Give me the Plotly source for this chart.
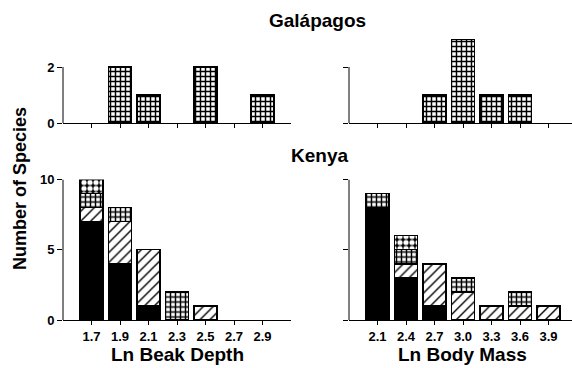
import plotly.graph_objects as go

# Histogram bins (natural log of beak depth / body mass)
beak_bins = [1.7, 1.9, 2.1, 2.3, 2.5, 2.7, 2.9]
mass_bins = [2.1, 2.4, 2.7, 3.0, 3.3, 3.6, 3.9]

# Galápagos species counts
gal_beak = [0, 2, 1, 0, 2, 0, 1]
gal_mass = [0, 0, 1, 3, 1, 1, 0]

# Kenya species counts, split into four stacked groups
ken_beak_solid = [7, 4, 1, 0, 0, 0, 0]
ken_beak_hatch = [1, 3, 4, 0, 1, 0, 0]
ken_beak_grid = [1, 1, 0, 2, 0, 0, 0]
ken_beak_dots = [1, 0, 0, 0, 0, 0, 0]

ken_mass_solid = [8, 3, 1, 0, 0, 0, 0]
ken_mass_hatch = [0, 1, 3, 2, 1, 1, 1]
ken_mass_grid = [1, 1, 0, 1, 0, 1, 0]
ken_mass_dots = [0, 1, 0, 0, 0, 0, 0]

beak_ticks = ["1.7", "1.9", "2.1", "2.3", "2.5", "2.7", "2.9"]
mass_ticks = ["2.1", "2.4", "2.7", "3.0", "3.3", "3.6", "3.9"]

W, H = 572, 368
FONT = "Liberation Sans"

SOLID = dict(color="black")
HATCH = dict(color="white", pattern=dict(shape="/", fgcolor="black", bgcolor="white",
                                          size=7, solidity=0.2, fillmode="replace"))
GRID = dict(color="white", pattern=dict(shape="+", fgcolor="black", bgcolor="white",
                                         size=5, solidity=0.5, fillmode="replace"))
DOTS = dict(color="black", pattern=dict(shape=".", fgcolor="white", bgcolor="black",
                                         size=6, solidity=0.6, fillmode="replace"))


def nz(vals):
    return [v if v else None for v in vals]


def add_bar(fig, x, y, style, xa, ya, width):
    marker = dict(style)
    marker["line"] = dict(color="black", width=1.4)
    fig.add_trace(go.Bar(x=x, y=nz(y), width=[width] * len(x), marker=marker,
                         xaxis=xa, yaxis=ya, showlegend=False))


fig = go.Figure()

# Galápagos panels (top)
add_bar(fig, beak_bins, gal_beak, GRID, "x", "y", 0.16)
add_bar(fig, mass_bins, gal_mass, GRID, "x2", "y2", 0.24)

# Kenya panels (bottom), stacked
for vals, st in [(ken_beak_solid, SOLID), (ken_beak_hatch, HATCH),
                 (ken_beak_grid, GRID), (ken_beak_dots, DOTS)]:
    add_bar(fig, beak_bins, vals, st, "x3", "y3", 0.16)
for vals, st in [(ken_mass_solid, SOLID), (ken_mass_hatch, HATCH),
                 (ken_mass_grid, GRID), (ken_mass_dots, DOTS)]:
    add_bar(fig, mass_bins, vals, st, "x4", "y4", 0.24)

left_dom = [63 / W, 291 / W]
right_dom = [349 / W, 1.0]
top_dom = [(H - 123) / H, (H - 39) / H]
bot_dom = [(H - 320) / H, (H - 179.5) / H]

tickfont = dict(family=FONT, size=13, color="black", weight="bold")
xcommon = dict(showline=True, linecolor="black", linewidth=1, ticks="outside",
               ticklen=4, tickcolor="black", tickwidth=1, showgrid=False,
               zeroline=False, tickfont=tickfont, fixedrange=True, automargin=False)
ycommon = dict(showline=False, ticks="outside", ticklen=5, tickcolor="black",
               tickwidth=1, showgrid=False, zeroline=False, tickfont=tickfont,
               fixedrange=True, automargin=False)

fig.update_layout(
    width=W, height=H, margin=dict(l=0, r=0, t=0, b=0, autoexpand=False),
    paper_bgcolor="white", plot_bgcolor="white", barmode="stack",
    font=dict(family=FONT, color="black"),
    xaxis=dict(xcommon, domain=left_dom, range=[1.5, 3.1], anchor="y",
               tickvals=beak_bins, showticklabels=False),
    yaxis=dict(ycommon, domain=top_dom, range=[0, 3], anchor="x",
               tickvals=[0, 2], ticktext=["0", "2"]),
    xaxis2=dict(xcommon, domain=right_dom, range=[1.8, 1.8 + 2.4 * 223 / 228],
                anchor="y2", tickvals=mass_bins, showticklabels=False),
    yaxis2=dict(ycommon, domain=top_dom, range=[0, 3], anchor="x2",
                tickvals=[0, 2], showticklabels=False),
    xaxis3=dict(xcommon, domain=left_dom, range=[1.5, 3.1], anchor="y3",
                tickvals=beak_bins, ticktext=beak_ticks),
    yaxis3=dict(ycommon, domain=bot_dom, range=[0, 10], anchor="x3",
                tickvals=[0, 5, 10]),
    xaxis4=dict(xcommon, domain=right_dom, range=[1.8, 1.8 + 2.4 * 223 / 228],
                anchor="y4", tickvals=mass_bins, ticktext=mass_ticks),
    yaxis4=dict(ycommon, domain=bot_dom, range=[0, 10], anchor="x4",
                tickvals=[0, 5, 10], showticklabels=False),
)

# Vertical axis lines: top panels only up to 2, bottom panels up to 10
for xr, yr, ytop in [("x domain", "y", 2), ("x2 domain", "y2", 2),
                     ("x3 domain", "y3", 10), ("x4 domain", "y4", 10)]:
    fig.add_shape(type="line", xref=xr, yref=yr, x0=0, x1=0, y0=0, y1=ytop,
                  line=dict(color="black", width=1))


def label(text, xpx, ypx, size, angle=0):
    fig.add_annotation(text=text, xref="paper", yref="paper", x=xpx / W,
                       y=(H - ypx) / H, xanchor="center", yanchor="middle",
                       textangle=angle, showarrow=False,
                       font=dict(family=FONT, size=size, color="black", weight="bold"))


label("Galápagos", 317, 21, 19)
label("Kenya", 319, 155, 19)
label("Ln Beak Depth", 177, 354, 19)
label("Ln Body Mass", 462, 354, 19)
label("Number of Species", 20, 189, 18, angle=-90)

fig.write_html("out.html")
